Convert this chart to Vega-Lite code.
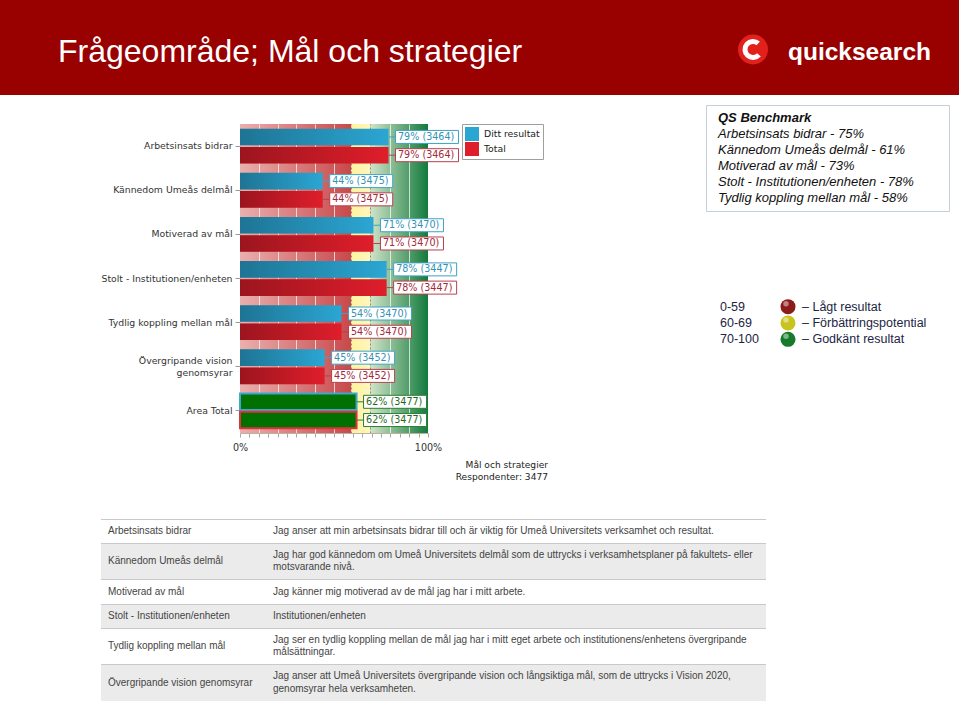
{
  "$schema": "https://vega.github.io/schema/vega-lite/v6.json",
  "background": "#ffffff",
  "padding": 0,
  "spacing": 0,
  "resolve": {"scale": {"fill": "independent", "color": "independent"}},
  "config": {"view": {"stroke": null}, "font": "Liberation Sans"},
  "datasets": {
    "resultat": [
      {"omr": "Arbetsinsats bidrar", "serie": "Ditt resultat", "pct": 79, "n": 3464},
      {"omr": "Arbetsinsats bidrar", "serie": "Total", "pct": 79, "n": 3464},
      {"omr": "Kännedom Umeås delmål", "serie": "Ditt resultat", "pct": 44, "n": 3475},
      {"omr": "Kännedom Umeås delmål", "serie": "Total", "pct": 44, "n": 3475},
      {"omr": "Motiverad av mål", "serie": "Ditt resultat", "pct": 71, "n": 3470},
      {"omr": "Motiverad av mål", "serie": "Total", "pct": 71, "n": 3470},
      {"omr": "Stolt - Institutionen/enheten", "serie": "Ditt resultat", "pct": 78, "n": 3447},
      {"omr": "Stolt - Institutionen/enheten", "serie": "Total", "pct": 78, "n": 3447},
      {"omr": "Tydlig koppling mellan mål", "serie": "Ditt resultat", "pct": 54, "n": 3470},
      {"omr": "Tydlig koppling mellan mål", "serie": "Total", "pct": 54, "n": 3470},
      {"omr": "Övergripande vision genomsyrar", "serie": "Ditt resultat", "pct": 45, "n": 3452},
      {"omr": "Övergripande vision genomsyrar", "serie": "Total", "pct": 45, "n": 3452},
      {"omr": "Area Total", "serie": "Ditt resultat", "pct": 62, "n": 3477},
      {"omr": "Area Total", "serie": "Total", "pct": 62, "n": 3477}
    ],
    "benchmark": [
      {"omr": "QS Benchmark", "varde": null},
      {"omr": "Arbetsinsats bidrar", "varde": 75},
      {"omr": "Kännedom Umeås delmål", "varde": 61},
      {"omr": "Motiverad av mål", "varde": 73},
      {"omr": "Stolt - Institutionen/enheten", "varde": 78},
      {"omr": "Tydlig koppling mellan mål", "varde": 58}
    ],
    "zoner": [
      {"intervall": "0-59", "zon": "Lågt resultat"},
      {"intervall": "60-69", "zon": "Förbättringspotential"},
      {"intervall": "70-100", "zon": "Godkänt resultat"}
    ],
    "tabell": [
      {"omr": "Arbetsinsats bidrar", "text": ["Jag anser att min arbetsinsats bidrar till och är viktig för Umeå Universitets verksamhet och resultat."]},
      {"omr": "Kännedom Umeås delmål", "text": ["Jag har god kännedom om Umeå Universitets delmål som de uttrycks i verksamhetsplaner på fakultets- eller", "motsvarande nivå."]},
      {"omr": "Motiverad av mål", "text": ["Jag känner mig motiverad av de mål jag har i mitt arbete."]},
      {"omr": "Stolt - Institutionen/enheten", "text": ["Institutionen/enheten"]},
      {"omr": "Tydlig koppling mellan mål", "text": ["Jag ser en tydlig koppling mellan de mål jag har i mitt eget arbete och institutionens/enhetens övergripande", "målsättningar."]},
      {"omr": "Övergripande vision genomsyrar", "text": ["Jag anser att Umeå Universitets övergripande vision och långsiktiga mål, som de uttrycks i Vision 2020,", "genomsyrar hela verksamheten."]}
    ]
  },
  "vconcat": [
    {
      "width": 959, "height": 95,
      "view": {"fill": "#990000"},
      "data": {"values": [{"del": "titel", "text": "Frågeområde; Mål och strategier"}, {"del": "logo", "text": "quicksearch"}]},
      "layer": [
        {"transform": [{"filter": "datum.del === 'titel'"}],
         "mark": {"type": "text", "align": "left", "baseline": "alphabetic", "dy": 14.5, "font": "Liberation Sans", "fontSize": 32, "color": "#ffffff"},
         "encoding": {"x": {"field": "del", "type": "nominal", "scale": {"type": "point", "padding": 0, "domain": ["titel", "logo"], "range": [58, 788]}, "axis": null}, "text": {"field": "text"}}},
        {"transform": [{"filter": "datum.del === 'logo'"}],
         "mark": {"type": "text", "align": "left", "baseline": "alphabetic", "dy": 12.5, "font": "Liberation Sans", "fontSize": 24.5, "fontWeight": "bold", "color": "#ffffff"},
         "encoding": {"x": {"field": "del", "type": "nominal", "scale": {"type": "point", "padding": 0, "domain": ["titel", "logo"], "range": [58, 788]}, "axis": null}, "text": {"field": "text"}}},
        {"transform": [{"filter": "datum.del === 'logo'"}],
         "mark": {"type": "point", "shape": "circle", "filled": true, "size": 900, "color": "#e3211c", "opacity": 1, "xOffset": -35, "yOffset": 2},
         "encoding": {"x": {"field": "del", "type": "nominal", "scale": {"type": "point", "padding": 0, "domain": ["titel", "logo"], "range": [58, 788]}, "axis": null}}},
        {"transform": [{"filter": "datum.del === 'logo'"}],
         "mark": {"type": "arc", "radius": 10.5, "radius2": 5.5, "theta": 2.3, "theta2": 7.0, "color": "#ffffff", "xOffset": -35, "yOffset": 2},
         "encoding": {"x": {"field": "del", "type": "nominal", "scale": {"type": "point", "padding": 0, "domain": ["titel", "logo"], "range": [58, 788]}, "axis": null}}}
      ]
    },
    {
      "spacing": 0,
      "resolve": {"scale": {"fill": "independent", "color": "independent"}},
      "hconcat": [
        {"width": 40, "height": 1, "data": {"values": []}, "mark": "point"},
        {
          "spacing": 0,
          "resolve": {"scale": {"fill": "independent", "color": "independent"}},
          "vconcat": [
            {"width": 188, "height": 28, "data": {"values": []}, "mark": "point"},
            {
              "width": 188, "height": 309,
              "view": {"stroke": null, "fill": {"gradient": "linear", "x1": 0, "y1": 0, "x2": 1, "y2": 0, "stops": [
                {"offset": 0, "color": "#eab0ae"},
                {"offset": 0.59, "color": "#c8494b"},
                {"offset": 0.59, "color": "#fff29e"},
                {"offset": 0.69, "color": "#fff6bc"},
                {"offset": 0.69, "color": "#d3e5ca"},
                {"offset": 1, "color": "#127a3c"}
              ]}},
              "data": {"name": "resultat"},
              "transform": [{"calculate": "datum.pct + '% (' + datum.n + ')'", "as": "etikett"}],
              "title": {"text": ["Mål och strategier", "Respondenter: 3477"], "orient": "bottom", "anchor": "end", "frame": "group", "align": "right", "dx": 120, "offset": 9, "font": "DejaVu Sans", "fontSize": 9.1, "fontWeight": "normal", "color": "#222222", "lineHeight": 12.6},
              "resolve": {"axis": {"x": "independent", "y": "independent"}},
              "layer": [
                {
                  "mark": {"type": "bar"},
                  "encoding": {
                    "x": {"field": "pct", "type": "quantitative", "scale": {"domain": [0, 100]}, "title": null,
                      "axis": {"orient": "bottom",
                        "values": [0, 5, 10, 15, 20, 25, 30, 35, 40, 45, 50, 55, 59, 60, 65, 69, 70, 75, 80, 85, 90, 95, 100],
                        "labelExpr": "datum.value === 0 || datum.value === 100 ? datum.value + '%' : ''",
                        "labelFlush": false, "labelOverlap": false,
                        "labelFont": "DejaVu Sans", "labelFontSize": 9.6, "labelColor": "#333333", "labelPadding": 5,
                        "tickSize": 4, "tickColor": "#a8a8a8",
                        "tickOpacity": {"condition": {"test": "datum.value === 59 || datum.value === 69", "value": 0}, "value": 1},
                        "domainColor": "#b8b2a4",
                        "grid": true,
                        "gridColor": {"condition": {"test": "datum.value === 59 || datum.value === 69", "value": "#6b6b55"}, "value": "#ffffff"},
                        "gridDash": {"condition": {"test": "datum.value === 59 || datum.value === 69", "value": [2, 2]}, "value": []},
                        "gridOpacity": {"condition": {"test": "indexof([10, 20, 30, 40, 50, 59, 69, 80, 90], datum.value) >= 0", "value": 0.7}, "value": 0},
                        "title": null}},
                    "y": {"field": "omr", "type": "nominal", "sort": null, "scale": {"paddingInner": 0, "paddingOuter": 0}, "title": null,
                      "axis": {"orient": "left", "domain": false, "ticks": true, "tickSize": 5, "tickColor": "#9a9a9a",
                        "labelFont": "DejaVu Sans", "labelFontSize": 9.3, "labelColor": "#333333", "labelPadding": 3, "labelLimit": 0, "labelLineHeight": 11.5,
                        "labelExpr": "datum.label === 'Övergripande vision genomsyrar' ? ['Övergripande vision', 'genomsyrar'] : datum.label",
                        "labelOffset": {"condition": {"test": "datum.value === 'Övergripande vision genomsyrar'", "value": -5.75}, "value": 0},
                        "minExtent": 200, "maxExtent": 200, "title": null}},
                    "yOffset": {"field": "serie", "type": "nominal", "sort": null, "scale": {"paddingInner": 0.09, "paddingOuter": 0.255}},
                    "fill": {"condition": {"test": "datum.omr === 'Area Total'", "value": "#007000"},
                      "field": "serie", "type": "nominal", "sort": null,
                      "scale": {"domain": ["Ditt resultat", "Total"], "range": ["#2ba6d3", "#df1e2b"]},
                      "legend": {"title": null, "orient": "none", "legendX": 222, "legendY": 0, "direction": "vertical", "symbolType": "square", "symbolSize": 196, "symbolStrokeWidth": 0,
                        "labelFont": "DejaVu Sans", "labelFontSize": 9.3, "labelColor": "#222222", "labelOffset": 5, "rowPadding": 1, "padding": 3, "strokeColor": "#9f9f9f", "fillColor": "#ffffff"}},
                    "stroke": {"condition": {"test": "datum.serie === 'Total'", "value": "#e2313b"}, "value": "#3aa9d1"},
                    "strokeWidth": {"condition": {"test": "datum.omr === 'Area Total'", "value": 2}, "value": 0}
                  }
                },
                {
                  "mark": {"type": "bar", "fill": {"gradient": "linear", "x1": 0, "y1": 0, "x2": 1, "y2": 0, "stops": [{"offset": 0, "color": "rgba(0,0,0,0.3)"}, {"offset": 1, "color": "rgba(0,0,0,0)"}]}},
                  "encoding": {
                    "x": {"field": "pct", "type": "quantitative", "scale": {"domain": [0, 100]}, "axis": null},
                    "y": {"field": "omr", "type": "nominal", "sort": null, "scale": {"paddingInner": 0, "paddingOuter": 0}, "axis": null},
                    "yOffset": {"field": "serie", "type": "nominal", "sort": null, "scale": {"paddingInner": 0.09, "paddingOuter": 0.255}},
                    "opacity": {"condition": {"test": "datum.omr === 'Area Total'", "value": 0}, "value": 1}
                  }
                },
                {
                  "mark": {"type": "rule", "x2Offset": 7, "strokeWidth": 1},
                  "encoding": {
                    "x": {"field": "pct", "type": "quantitative", "scale": {"domain": [0, 100]}, "axis": null},
                    "x2": {"field": "pct"},
                    "y": {"field": "omr", "type": "nominal", "sort": null, "scale": {"paddingInner": 0, "paddingOuter": 0}, "axis": null},
                    "yOffset": {"field": "serie", "type": "nominal", "sort": null, "scale": {"paddingInner": 0.09, "paddingOuter": 0.255}},
                    "color": {"condition": [{"test": "datum.omr === 'Area Total'", "value": "#2e7d32"}, {"test": "datum.serie === 'Total'", "value": "#b8404e"}], "value": "#3ea3c6"}
                  }
                },
                {
                  "mark": {"type": "bar", "fill": "#ffffff", "strokeWidth": 1, "xOffset": 7, "x2Offset": 70, "height": 13},
                  "encoding": {
                    "x": {"field": "pct", "type": "quantitative", "scale": {"domain": [0, 100]}, "axis": null},
                    "x2": {"field": "pct"},
                    "y": {"field": "omr", "type": "nominal", "sort": null, "scale": {"paddingInner": 0, "paddingOuter": 0}, "axis": null},
                    "yOffset": {"field": "serie", "type": "nominal", "sort": null, "scale": {"paddingInner": 0.09, "paddingOuter": 0.255}},
                    "stroke": {"condition": [{"test": "datum.omr === 'Area Total'", "value": "#2e7d32"}, {"test": "datum.serie === 'Total'", "value": "#b8404e"}], "value": "#3ea3c6"}
                  }
                },
                {
                  "mark": {"type": "text", "align": "left", "baseline": "middle", "dx": 9.5, "font": "DejaVu Sans", "fontSize": 9.6},
                  "encoding": {
                    "x": {"field": "pct", "type": "quantitative", "scale": {"domain": [0, 100]}, "axis": null},
                    "y": {"field": "omr", "type": "nominal", "sort": null, "scale": {"paddingInner": 0, "paddingOuter": 0}, "title": null,
                      "axis": {"orient": "right", "domain": false, "ticks": false, "labels": false, "grid": false, "minExtent": 277, "maxExtent": 277, "title": null}},
                    "yOffset": {"field": "serie", "type": "nominal", "sort": null, "scale": {"paddingInner": 0.09, "paddingOuter": 0.255}},
                    "text": {"field": "etikett"},
                    "color": {"condition": [{"test": "datum.omr === 'Area Total'", "value": "#1e6b1e"}, {"test": "datum.serie === 'Total'", "value": "#a3283a"}], "value": "#3591b3"}
                  }
                }
              ]
            }
          ]
        },
        {
          "spacing": 0,
          "resolve": {"scale": {"fill": "independent", "color": "independent"}},
          "vconcat": [
            {"width": 254, "height": 9, "data": {"values": []}, "mark": "point"},
            {
              "width": 243, "height": 106,
              "view": {"stroke": "#c5cedb", "strokeWidth": 1, "fill": "#ffffff"},
              "data": {"name": "benchmark"},
              "transform": [{"calculate": "datum.varde === null ? datum.omr : datum.omr + ' - ' + datum.varde + '%'", "as": "rad"}],
              "encoding": {
                "y": {"field": "omr", "type": "nominal", "sort": null, "scale": {"type": "point", "padding": 0.8}, "axis": null},
                "text": {"field": "rad"}
              },
              "layer": [
                {"mark": {"type": "text", "align": "left", "baseline": "middle", "x": 12, "font": "Liberation Sans", "fontSize": 13, "fontStyle": "italic", "fontWeight": "bold", "color": "#111111"},
                 "encoding": {"opacity": {"condition": {"test": "datum.varde === null", "value": 1}, "value": 0}}},
                {"mark": {"type": "text", "align": "left", "baseline": "middle", "x": 12, "font": "Liberation Sans", "fontSize": 13, "fontStyle": "italic", "color": "#111111"},
                 "encoding": {"opacity": {"condition": {"test": "datum.varde === null", "value": 0}, "value": 1}}}
              ]
            },
            {"width": 254, "height": 86, "data": {"values": []}, "mark": "point"},
            {
              "width": 254, "height": 50,
              "data": {"name": "zoner"},
              "transform": [{"calculate": "'– ' + datum.zon", "as": "txt"}],
              "encoding": {"y": {"field": "zon", "type": "nominal", "sort": null, "scale": {"type": "point", "padding": 0.53}, "axis": null}},
              "layer": [
                {"mark": {"type": "text", "align": "left", "baseline": "middle", "x": 14, "font": "Liberation Sans", "fontSize": 12.5, "color": "#1c2545"},
                 "encoding": {"text": {"field": "intervall"}}},
                {"mark": {"type": "point", "shape": "circle", "filled": true, "size": 225, "opacity": 1, "x": 82},
                 "encoding": {"color": {"field": "zon", "type": "nominal", "sort": null, "scale": {"range": ["#8c1c1c", "#c8c31f", "#157a2b"]}, "legend": null}}},
                {"mark": {"type": "point", "shape": "circle", "filled": true, "size": 30, "opacity": 0.45, "color": "#ffffff", "x": 80, "yOffset": -3}},
                {"mark": {"type": "text", "align": "left", "baseline": "middle", "x": 96, "font": "Liberation Sans", "fontSize": 12.5, "color": "#1c2545"},
                 "encoding": {"text": {"field": "txt"}}}
              ]
            },
            {"width": 254, "height": 171, "data": {"values": []}, "mark": "point"}
          ]
        }
      ]
    },
    {
      "spacing": 0,
      "hconcat": [
        {"width": 100, "height": 182, "data": {"values": []}, "mark": "point"},
        {
          "spacing": 0,
          "vconcat": [
            {"width": 665, "height": 24, "view": {"fill": "#ffffff"}, "data": {"name": "tabell"},
             "transform": [{"filter": "datum.omr === 'Arbetsinsats bidrar'"}],
             "layer": [
               {"mark": {"type": "rule", "color": "#c9c9c9", "strokeWidth": 1}, "encoding": {"y": {"value": 0.5}}},
               {"mark": {"type": "text", "align": "left", "baseline": "middle", "font": "Liberation Sans", "fontSize": 10, "color": "#444444"},
                "encoding": {"x": {"datum": "omr", "type": "nominal", "scale": {"type": "point", "padding": 0, "domain": ["omr", "text"], "range": [7, 172]}, "axis": null}, "text": {"field": "omr"}}},
               {"mark": {"type": "text", "align": "left", "baseline": "middle", "font": "Liberation Sans", "fontSize": 10, "color": "#444444", "lineHeight": 12.5},
                "encoding": {"x": {"datum": "text", "type": "nominal", "scale": {"type": "point", "padding": 0, "domain": ["omr", "text"], "range": [7, 172]}, "axis": null}, "text": {"field": "text"}}}
             ]},
            {"width": 665, "height": 36, "view": {"fill": "#ebebeb"}, "data": {"name": "tabell"},
             "transform": [{"filter": "datum.omr === 'Kännedom Umeås delmål'"}],
             "layer": [
               {"mark": {"type": "rule", "color": "#c9c9c9", "strokeWidth": 1}, "encoding": {"y": {"value": 0.5}}},
               {"mark": {"type": "text", "align": "left", "baseline": "middle", "font": "Liberation Sans", "fontSize": 10, "color": "#444444"},
                "encoding": {"x": {"datum": "omr", "type": "nominal", "scale": {"type": "point", "padding": 0, "domain": ["omr", "text"], "range": [7, 172]}, "axis": null}, "text": {"field": "omr"}}},
               {"mark": {"type": "text", "align": "left", "baseline": "middle", "dy": -6.25, "font": "Liberation Sans", "fontSize": 10, "color": "#444444", "lineHeight": 12.5},
                "encoding": {"x": {"datum": "text", "type": "nominal", "scale": {"type": "point", "padding": 0, "domain": ["omr", "text"], "range": [7, 172]}, "axis": null}, "text": {"field": "text"}}}
             ]},
            {"width": 665, "height": 25, "view": {"fill": "#ffffff"}, "data": {"name": "tabell"},
             "transform": [{"filter": "datum.omr === 'Motiverad av mål'"}],
             "layer": [
               {"mark": {"type": "rule", "color": "#c9c9c9", "strokeWidth": 1}, "encoding": {"y": {"value": 0.5}}},
               {"mark": {"type": "text", "align": "left", "baseline": "middle", "font": "Liberation Sans", "fontSize": 10, "color": "#444444"},
                "encoding": {"x": {"datum": "omr", "type": "nominal", "scale": {"type": "point", "padding": 0, "domain": ["omr", "text"], "range": [7, 172]}, "axis": null}, "text": {"field": "omr"}}},
               {"mark": {"type": "text", "align": "left", "baseline": "middle", "font": "Liberation Sans", "fontSize": 10, "color": "#444444", "lineHeight": 12.5},
                "encoding": {"x": {"datum": "text", "type": "nominal", "scale": {"type": "point", "padding": 0, "domain": ["omr", "text"], "range": [7, 172]}, "axis": null}, "text": {"field": "text"}}}
             ]},
            {"width": 665, "height": 24, "view": {"fill": "#ebebeb"}, "data": {"name": "tabell"},
             "transform": [{"filter": "datum.omr === 'Stolt - Institutionen/enheten'"}],
             "layer": [
               {"mark": {"type": "rule", "color": "#c9c9c9", "strokeWidth": 1}, "encoding": {"y": {"value": 0.5}}},
               {"mark": {"type": "text", "align": "left", "baseline": "middle", "font": "Liberation Sans", "fontSize": 10, "color": "#444444"},
                "encoding": {"x": {"datum": "omr", "type": "nominal", "scale": {"type": "point", "padding": 0, "domain": ["omr", "text"], "range": [7, 172]}, "axis": null}, "text": {"field": "omr"}}},
               {"mark": {"type": "text", "align": "left", "baseline": "middle", "font": "Liberation Sans", "fontSize": 10, "color": "#444444", "lineHeight": 12.5},
                "encoding": {"x": {"datum": "text", "type": "nominal", "scale": {"type": "point", "padding": 0, "domain": ["omr", "text"], "range": [7, 172]}, "axis": null}, "text": {"field": "text"}}}
             ]},
            {"width": 665, "height": 36, "view": {"fill": "#ffffff"}, "data": {"name": "tabell"},
             "transform": [{"filter": "datum.omr === 'Tydlig koppling mellan mål'"}],
             "layer": [
               {"mark": {"type": "rule", "color": "#c9c9c9", "strokeWidth": 1}, "encoding": {"y": {"value": 0.5}}},
               {"mark": {"type": "text", "align": "left", "baseline": "middle", "font": "Liberation Sans", "fontSize": 10, "color": "#444444"},
                "encoding": {"x": {"datum": "omr", "type": "nominal", "scale": {"type": "point", "padding": 0, "domain": ["omr", "text"], "range": [7, 172]}, "axis": null}, "text": {"field": "omr"}}},
               {"mark": {"type": "text", "align": "left", "baseline": "middle", "dy": -6.25, "font": "Liberation Sans", "fontSize": 10, "color": "#444444", "lineHeight": 12.5},
                "encoding": {"x": {"datum": "text", "type": "nominal", "scale": {"type": "point", "padding": 0, "domain": ["omr", "text"], "range": [7, 172]}, "axis": null}, "text": {"field": "text"}}}
             ]},
            {"width": 665, "height": 37, "view": {"fill": "#ebebeb"}, "data": {"name": "tabell"},
             "transform": [{"filter": "datum.omr === 'Övergripande vision genomsyrar'"}],
             "layer": [
               {"mark": {"type": "rule", "color": "#c9c9c9", "strokeWidth": 1}, "encoding": {"y": {"value": 0.5}}},
               {"mark": {"type": "text", "align": "left", "baseline": "middle", "font": "Liberation Sans", "fontSize": 10, "color": "#444444"},
                "encoding": {"x": {"datum": "omr", "type": "nominal", "scale": {"type": "point", "padding": 0, "domain": ["omr", "text"], "range": [7, 172]}, "axis": null}, "text": {"field": "omr"}}},
               {"mark": {"type": "text", "align": "left", "baseline": "middle", "dy": -6.25, "font": "Liberation Sans", "fontSize": 10, "color": "#444444", "lineHeight": 12.5},
                "encoding": {"x": {"datum": "text", "type": "nominal", "scale": {"type": "point", "padding": 0, "domain": ["omr", "text"], "range": [7, 172]}, "axis": null}, "text": {"field": "text"}}}
             ]}
          ]
        }
      ]
    }
  ]
}
